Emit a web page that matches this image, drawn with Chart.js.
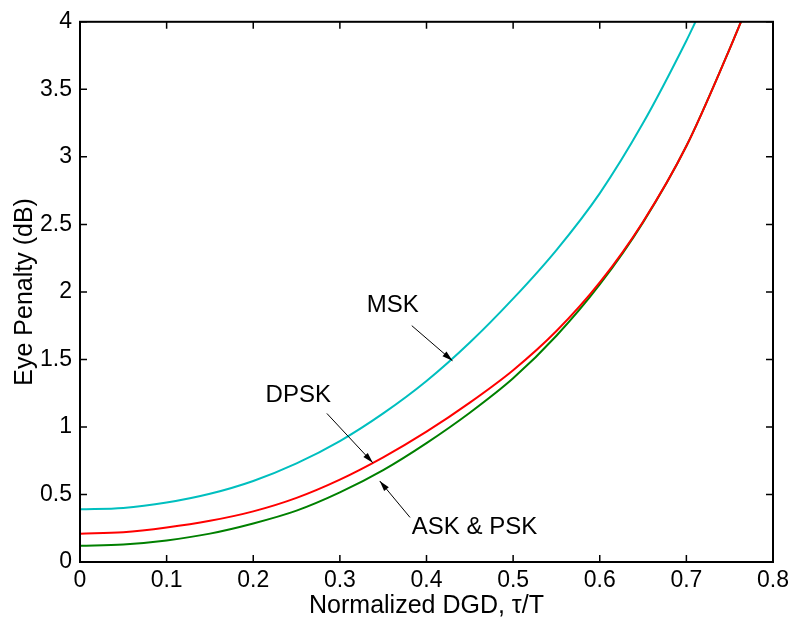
<!DOCTYPE html>
<html>
<head>
<meta charset="utf-8">
<script src="https://cdn.jsdelivr.net/npm/chart.js@4"></script>
<style>
  html, body { margin: 0; padding: 0; background: #fff; }
  canvas { display: block; }
</style>
</head>
<body>
<canvas id="eyeChart" width="794" height="628"></canvas>
<script>
// values (normalized DGD vs. eye penalty in dB)
const dpskTau = [0, 0.05, 0.1, 0.15, 0.2, 0.25, 0.3, 0.35, 0.4, 0.45, 0.5, 0.55, 0.6, 0.65, 0.7, 0.75, 0.763];
const dpskPenalty = [0.21, 0.22, 0.255, 0.305, 0.375, 0.475, 0.61, 0.775, 0.965, 1.18, 1.42, 1.71, 2.07, 2.52, 3.08, 3.80, 4.0];

const askTau = [0, 0.05, 0.1, 0.15, 0.2, 0.25, 0.3, 0.35, 0.4, 0.45, 0.5, 0.55, 0.6, 0.65, 0.7, 0.75, 0.763];
const askPenalty = [0.12, 0.13, 0.16, 0.21, 0.285, 0.38, 0.515, 0.68, 0.88, 1.105, 1.36, 1.675, 2.055, 2.515, 3.08, 3.80, 4.0];

const mskTau = [0, 0.05, 0.1, 0.15, 0.2, 0.25, 0.3, 0.35, 0.4, 0.45, 0.5, 0.55, 0.6, 0.65, 0.7, 0.712];
const mskPenalty = [0.39, 0.40, 0.44, 0.505, 0.60, 0.73, 0.895, 1.10, 1.34, 1.625, 1.95, 2.31, 2.73, 3.25, 3.86, 4.02];

const xTicks = [0, 0.1, 0.2, 0.3, 0.4, 0.5, 0.6, 0.7, 0.8];
const yTicks = [0, 0.5, 1, 1.5, 2, 2.5, 3, 3.5, 4];

// text labels with arrows, in data coordinates
const notes = [
  { text: "MSK", x: 0.361, y: 1.90, align: "center", from: [0.383, 1.75], to: [0.430, 1.49] },
  { text: "DPSK", x: 0.252, y: 1.235, align: "center", from: [0.285, 1.10], to: [0.338, 0.735] },
  { text: "ASK & PSK", x: 0.383, y: 0.256, align: "left", from: [0.381, 0.33], to: [0.346, 0.60] }
];

const FONT = "'Liberation Sans', Arial, Helvetica, sans-serif";
const pts = (xs, ys) => xs.map((x, i) => ({ x, y: ys[i] }));

// frame with inward ticks on all four sides, plus arrows and text
const framePlugin = {
  id: "frame",
  afterDatasetsDraw(chart) {
    const { ctx, chartArea: a, scales: { x, y } } = chart;
    ctx.save();
    ctx.strokeStyle = "#000";
    ctx.lineWidth = 2;
    ctx.strokeRect(a.left, a.top, a.right - a.left, a.bottom - a.top);
    ctx.lineWidth = 1.5;
    ctx.beginPath();
    xTicks.forEach(v => {
      const px = x.getPixelForValue(v);
      ctx.moveTo(px, a.bottom); ctx.lineTo(px, a.bottom - 7);
      ctx.moveTo(px, a.top); ctx.lineTo(px, a.top + 7);
    });
    yTicks.forEach(v => {
      const py = y.getPixelForValue(v);
      ctx.moveTo(a.left, py); ctx.lineTo(a.left + 7, py);
      ctx.moveTo(a.right, py); ctx.lineTo(a.right - 7, py);
    });
    ctx.stroke();

    ctx.font = "24px " + FONT;
    ctx.fillStyle = "#000";
    ctx.textBaseline = "middle";
    notes.forEach(n => {
      ctx.textAlign = n.align;
      ctx.fillText(n.text, x.getPixelForValue(n.x), y.getPixelForValue(n.y));
      const x1 = x.getPixelForValue(n.from[0]), y1 = y.getPixelForValue(n.from[1]);
      const x2 = x.getPixelForValue(n.to[0]), y2 = y.getPixelForValue(n.to[1]);
      const ang = Math.atan2(y2 - y1, x2 - x1);
      ctx.lineWidth = 1;
      ctx.beginPath();
      ctx.moveTo(x1, y1); ctx.lineTo(x2, y2);
      ctx.stroke();
      ctx.beginPath();
      ctx.moveTo(x2, y2);
      ctx.lineTo(x2 - 11 * Math.cos(ang - 0.28), y2 - 11 * Math.sin(ang - 0.28));
      ctx.lineTo(x2 - 11 * Math.cos(ang + 0.28), y2 - 11 * Math.sin(ang + 0.28));
      ctx.closePath();
      ctx.fill();
    });
    ctx.restore();
  }
};

const line = (data, color) => ({
  data, borderColor: color, borderWidth: 2, pointRadius: 0,
  fill: false, cubicInterpolationMode: "monotone"
});

new Chart(document.getElementById("eyeChart"), {
  type: "line",
  data: {
    datasets: [
      line(pts(dpskTau, dpskPenalty), "#ff0000"),
      line(pts(askTau, askPenalty), "#008000"),
      line(pts(mskTau, mskPenalty), "#00bfbf")
    ]
  },
  options: {
    responsive: false,
    animation: false,
    events: [],
    layout: { padding: { top: 15, right: 21, left: 0, bottom: 0 } },
    plugins: { legend: { display: false }, tooltip: { enabled: false } },
    scales: {
      x: {
        type: "linear", min: 0, max: 0.8,
        afterBuildTicks: s => { s.ticks = xTicks.map(v => ({ value: v })); },
        afterFit: s => { s.height = 66; },
        grid: { display: false, drawTicks: false },
        border: { display: false },
        ticks: {
          color: "#000", padding: 5, maxRotation: 0,
          font: { family: FONT, size: 23 }, callback: v => String(v)
        },
        title: {
          display: true, text: "Normalized DGD, \u03c4/T", color: "#000",
          font: { family: FONT, size: 25 }, padding: { top: 0, bottom: 7 }
        }
      },
      y: {
        type: "linear", min: 0, max: 4,
        afterBuildTicks: s => { s.ticks = yTicks.map(v => ({ value: v })); },
        afterFit: s => { s.width = 80; },
        grid: { display: false, drawTicks: false },
        border: { display: false },
        ticks: {
          color: "#000", padding: 8,
          font: { family: FONT, size: 23 }, callback: v => String(v)
        },
        title: {
          display: true, text: "Eye Penalty (dB)", color: "#000",
          font: { family: FONT, size: 25 }, padding: { top: 10, bottom: 0 }
        }
      }
    }
  },
  plugins: [framePlugin]
});
</script>
</body>
</html>
